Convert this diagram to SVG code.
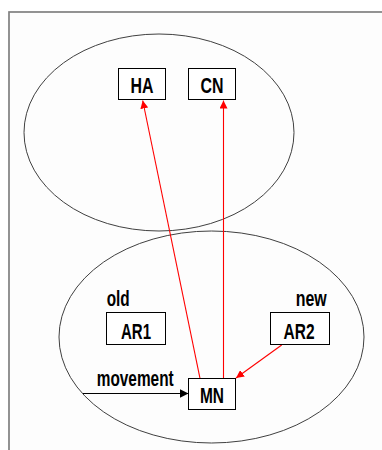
<svg xmlns="http://www.w3.org/2000/svg" width="382" height="450" viewBox="0 0 382 450">
<style>
.frame{fill:#fdfdfd;stroke:#808080;stroke-width:1.7}
.region{fill:none;stroke:#404040;stroke-width:1}
.box{fill:#ffffff;stroke:#000000;stroke-width:1}
.lbl{font-family:"Liberation Sans",Arial,sans-serif;font-size:22px;font-weight:bold;fill:#000000}
.mid{text-anchor:middle}
.red{stroke:#ff0000;stroke-width:1.1;fill:none}
.blk{stroke:#000000;stroke-width:1.1;fill:none}
</style>
<defs>
<marker id="ar" markerWidth="8" markerHeight="8" refX="8" refY="4" orient="auto" markerUnits="userSpaceOnUse">
<path d="M0,0 L8,4 L0,8 Z" fill="#ff0000"/>
</marker>
<marker id="ab" markerWidth="9" markerHeight="9" refX="9" refY="4.5" orient="auto" markerUnits="userSpaceOnUse">
<path d="M0,0 L9,4.5 L0,9 Z" fill="#000000"/>
</marker>
</defs>
<rect class="frame" x="9" y="12" width="400" height="460"/>
<ellipse class="region" cx="159" cy="132.5" rx="135" ry="98.5"/>
<ellipse class="region" cx="211.5" cy="337" rx="152.5" ry="106"/>
<g id="connectors">
<line class="red" x1="200" y1="378.3" x2="142.7" y2="100.5" marker-end="url(#ar)"/>
<line class="red" x1="223.5" y1="378.3" x2="223.5" y2="100.5" marker-end="url(#ar)"/>
<line class="red" x1="281.7" y1="345" x2="236" y2="378" marker-end="url(#ar)"/>
<line class="blk" x1="83" y1="393.5" x2="188.5" y2="393.5" marker-end="url(#ab)"/>
</g>
<g id="HA"><rect class="box" x="118.5" y="68.5" width="47" height="31"/><text class="lbl mid" x="142" y="93" textLength="23" lengthAdjust="spacingAndGlyphs">HA</text></g>
<g id="CN"><rect class="box" x="188.5" y="68.5" width="47" height="31"/><text class="lbl mid" x="212" y="93" textLength="23" lengthAdjust="spacingAndGlyphs">CN</text></g>
<g id="AR1"><rect class="box" x="106.5" y="312.5" width="59" height="32"/><text class="lbl mid" x="136" y="338.5" textLength="30" lengthAdjust="spacingAndGlyphs">AR1</text></g>
<g id="AR2"><rect class="box" x="270.5" y="312.5" width="59" height="32"/><text class="lbl mid" x="299" y="338.5" textLength="31" lengthAdjust="spacingAndGlyphs">AR2</text></g>
<g id="MN"><rect class="box" x="188.5" y="378.5" width="47" height="31"/><text class="lbl mid" x="212" y="403" textLength="24" lengthAdjust="spacingAndGlyphs">MN</text></g>
<text class="lbl" x="106.7" y="306" textLength="23" lengthAdjust="spacingAndGlyphs">old</text>
<text class="lbl" x="295.7" y="306" textLength="31" lengthAdjust="spacingAndGlyphs">new</text>
<text class="lbl" x="96.7" y="386" textLength="77" lengthAdjust="spacingAndGlyphs">movement</text>
</svg>
